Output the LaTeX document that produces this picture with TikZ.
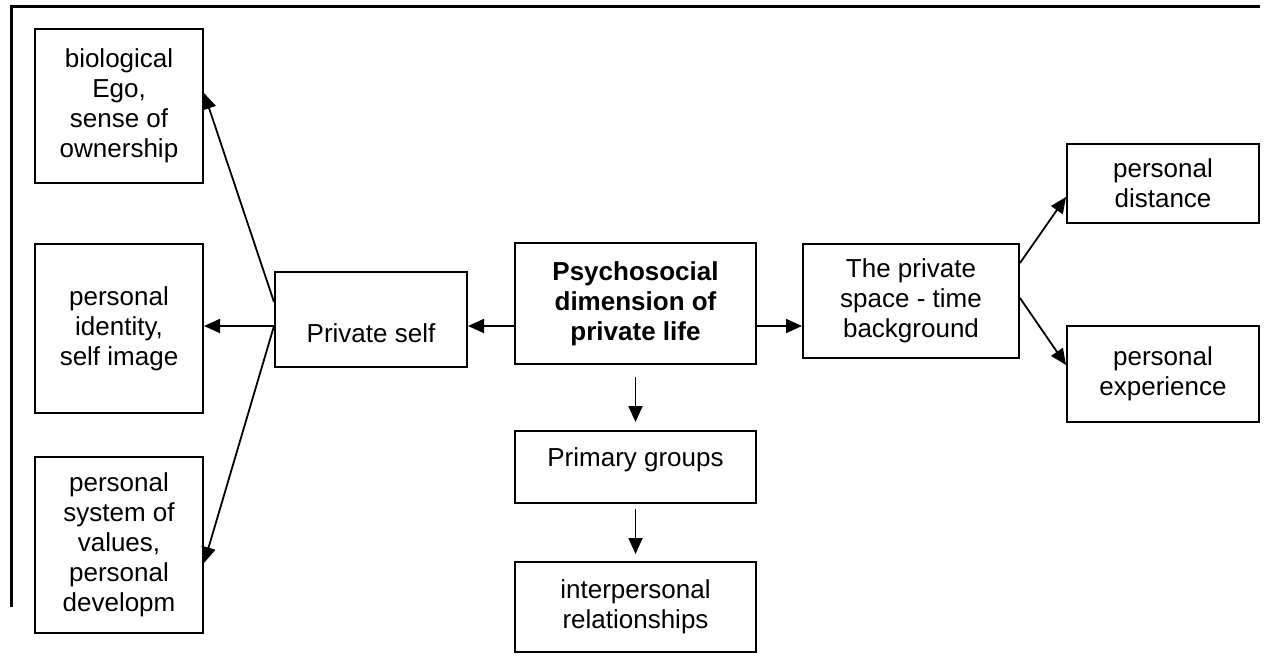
\documentclass[tikz,border=0pt]{standalone}
\usepackage{fontspec}
\setmainfont{Liberation Sans}
\usetikzlibrary{arrows.meta}

\begin{document}
\begin{tikzpicture}[x=1pt, y=-1pt]
            \tikzstyle{every node} = [font=\fontsize{26}{30}\selectfont, align=center]
            \tikzstyle{box} = [draw, line width=2pt, inner sep=0pt]
            \tikzstyle{link} = [line width=1.8pt, -{Triangle[length=16pt, width=14pt]}]
            \useasboundingbox (0, 0) rectangle (1282, 661);

            % frame
            \draw[line width=3pt] (11, 607) -- (11, 7) -- (1260, 7);

            % left column
            \node[box, minimum width=168pt, minimum height=154pt] (bio) at (119, 106)
                {biological\\Ego,\\sense of\\ownership};
            \node[box, minimum width=168pt, minimum height=169pt] (ident) at (119, 328.5)
                {personal\\identity,\\self image};
            \node[box, minimum width=168pt, minimum height=176pt] (values) at (119, 545)
                {personal\\system of\\values,\\personal\\developm};

            % middle
            \node[box, minimum width=192pt, minimum height=95pt, text height=45pt, text depth=0pt] (self) at (371, 319.5)
                {Private self};
            \node[box, minimum width=241pt, minimum height=121pt, font=\fontsize{26}{30}\selectfont\bfseries] (psycho) at (635.5, 303.5)
                {Psychosocial\\dimension of\\private life};
            \node[box, minimum width=241pt, minimum height=72pt, text height=18pt, text depth=20pt] (groups) at (635.5, 467)
                {Primary groups};
            \node[box, minimum width=241pt, minimum height=90pt] (inter) at (635.5, 607)
                {interpersonal\\relationships};

            % right
            \node[box, minimum width=216pt, minimum height=114pt] (space) at (911, 301)
                {The private\\space - time\\background};
            \node[box, minimum width=192pt, minimum height=79pt] (dist) at (1163, 183.5)
                {personal\\distance};
            \node[box, minimum width=192pt, minimum height=96pt] (exper) at (1163, 374)
                {personal\\experience};

            % connectors
            \draw[link] ([yshift=17.5pt]self.west) -- ([yshift=13pt]bio.east);
            \draw[link] ([yshift=-6.5pt]self.west) -- ([yshift=2.5pt]ident.east);
            \draw[link] ([yshift=-6.5pt]self.west) -- ([yshift=-18pt]values.east);
            \draw[link] ([yshift=-22.5pt]psycho.west) -- ([yshift=-6.5pt]self.east);
            \draw[link] ([yshift=-22.5pt]psycho.east) -- ([yshift=-25pt]space.west);
            \draw[link] ([yshift=38pt]space.east) -- ([yshift=-13.5pt]dist.west);
            \draw[link] ([yshift=3pt]space.east) -- ([yshift=9pt]exper.west);
            \draw[link, shorten <=12pt, shorten >=8pt] (psycho.south) -- (groups.north);
            \draw[link, shorten <=5pt, shorten >=7pt] (groups.south) -- (inter.north);
\end{tikzpicture}
\end{document}
